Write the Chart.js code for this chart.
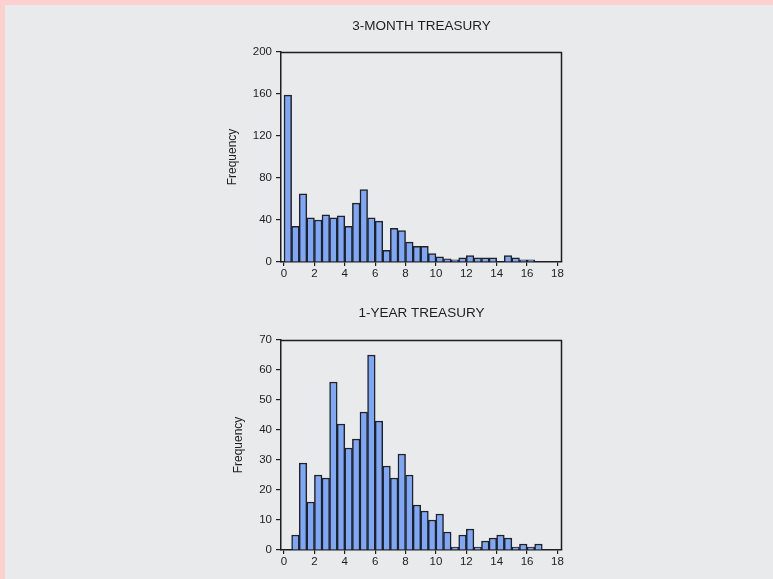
<!DOCTYPE html>
<html>
<head>
<meta charset="utf-8">
<script src="https://cdn.jsdelivr.net/npm/chart.js@4.4.1/dist/chart.umd.min.js"></script>
<style>
  body { margin: 0; background: #fdd0d0; width: 773px; height: 579px; overflow: hidden; position: relative; }
  #page { position: absolute; left: 5px; top: 5px; width: 768px; height: 574px; background: #e9eaec; }
  canvas { position: absolute; }
</style>
</head>
<body>
<div id="page"></div>
<canvas id="chart3m" width="443" height="290" style="left:200px; top:0px"></canvas>
<canvas id="chart1y" width="443" height="290" style="left:200px; top:290px"></canvas>
<script>
// bin centres (bins are 0.5 wide)
const binCenters = [0.25, 0.75, 1.25, 1.75, 2.25, 2.75, 3.25, 3.75, 4.25, 4.75,
  5.25, 5.75, 6.25, 6.75, 7.25, 7.75, 8.25, 8.75, 9.25, 9.75,
  10.25, 10.75, 11.25, 11.75, 12.25, 12.75, 13.25, 13.75, 14.25, 14.75,
  15.25, 15.75, 16.25, 16.75];

// frequencies
const threeMonth = [159, 34, 65, 42, 40, 45, 42, 44, 34, 56,
  69, 42, 39, 11, 32, 30, 19, 15, 15, 8,
  5, 3, 2, 4, 6, 4, 4, 4, 0, 6,
  4, 2, 2, 0];
const oneYear = [0, 5, 29, 16, 25, 24, 56, 42, 34, 37,
  46, 65, 43, 28, 24, 32, 25, 15, 13, 10,
  12, 6, 1, 5, 7, 1, 3, 4, 5, 4,
  1, 2, 1, 2];

// tick labels
const xTicks = [0, 2, 4, 6, 8, 10, 12, 14, 16, 18];
const yTicks3m = [0, 40, 80, 120, 160, 200];
const yTicks1y = [0, 10, 20, 30, 40, 50, 60, 70];

const FONT = "'Liberation Sans', Arial, sans-serif";
const INK = '#1e1e1e';

// draws the top and right sides of the plot box
const framePlugin = {
  id: 'frame',
  afterDraw(chart) {
    const a = chart.chartArea;
    const ctx = chart.ctx;
    ctx.save();
    ctx.strokeStyle = INK;
    ctx.lineWidth = 1.5;
    ctx.beginPath();
    ctx.moveTo(a.left, a.top + 0.5);
    ctx.lineTo(a.right - 0.5, a.top + 0.5);
    ctx.lineTo(a.right - 0.5, a.bottom);
    ctx.stroke();
    ctx.restore();
  }
};

function makeHist(id, title, values, yTicks, titlePad, yTitlePad, xHeight) {
  const ctx = document.getElementById(id).getContext('2d');
  return new Chart(ctx, {
    type: 'bar',
    data: {
      datasets: [{
        data: binCenters.map((x, i) => ({ x: x, y: values[i] })),
        backgroundColor: '#7ea7f8',
        borderColor: '#222222',
        borderWidth: 1.5,
        barPercentage: 1,
        categoryPercentage: 1
      }]
    },
    options: {
      responsive: false,
      animation: false,
      layout: { padding: { left: 0, right: 81, top: 0, bottom: 0 } },
      plugins: {
        legend: { display: false },
        tooltip: { enabled: false },
        title: {
          display: true,
          fullSize: false,
          text: title,
          color: INK,
          font: { family: FONT, size: 13.5, weight: 'normal' },
          padding: titlePad
        }
      },
      scales: {
        x: {
          type: 'linear',
          min: -0.2,
          max: 18.3,
          offset: false,
          grid: { drawOnChartArea: false, drawTicks: true, tickLength: 4, color: INK, lineWidth: 1.2, offset: false },
          border: { display: true, color: INK, width: 1.5 },
          ticks: { color: INK, font: { family: FONT, size: 11.5 }, padding: 1, maxRotation: 0, autoSkip: false },
          afterBuildTicks: s => { s.ticks = xTicks.map(v => ({ value: v })); },
          afterFit: s => { s.height = xHeight; }
        },
        y: {
          min: 0,
          max: yTicks[yTicks.length - 1],
          grid: { drawOnChartArea: false, drawTicks: true, tickLength: 5, color: INK, lineWidth: 1.2 },
          border: { display: true, color: INK, width: 1.5 },
          ticks: { color: INK, font: { family: FONT, size: 11.5 }, padding: 4 },
          title: {
            display: true,
            text: 'Frequency',
            color: INK,
            font: { family: FONT, size: 12 },
            padding: { top: yTitlePad, bottom: 0 }
          },
          afterBuildTicks: s => { s.ticks = yTicks.map(v => ({ value: v })); },
          afterFit: s => { s.width = 81; }
        }
      }
    },
    plugins: [framePlugin]
  });
}

makeHist('chart3m', '3-MONTH TREASURY', threeMonth, yTicks3m, { top: 18.3, bottom: 17.5 }, 25, 28);
makeHist('chart1y', '1-YEAR TREASURY', oneYear, yTicks1y, { top: 15, bottom: 18.8 }, 31, 30);
</script>
</body>
</html>
